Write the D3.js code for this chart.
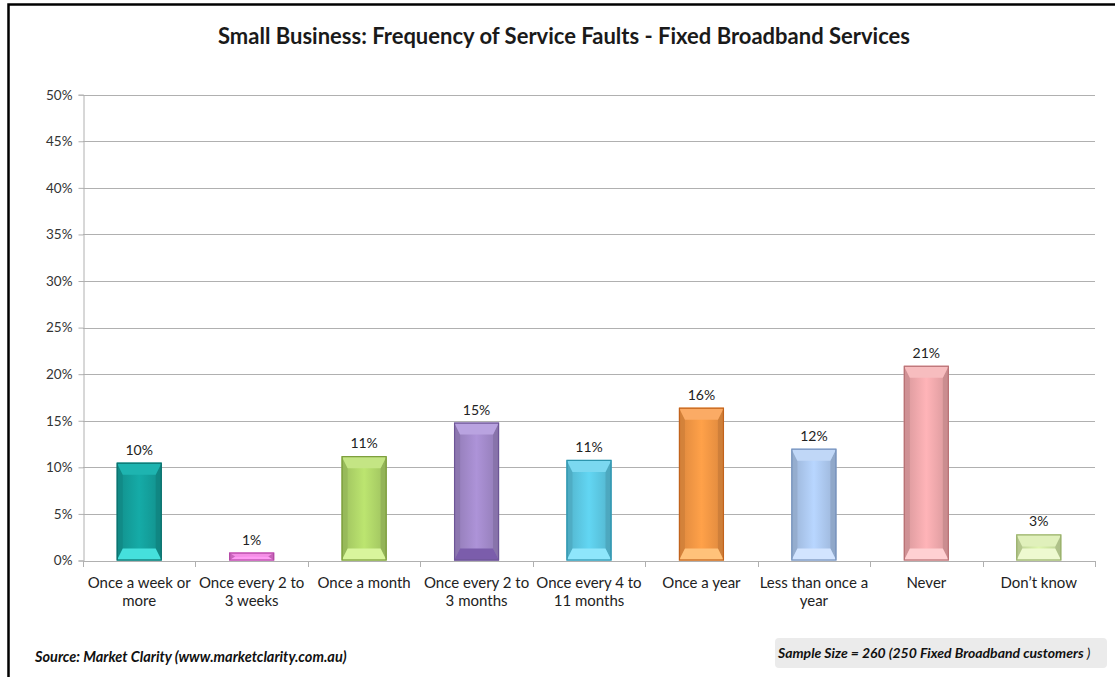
<!DOCTYPE html>
<html><head><meta charset="utf-8">
<script src="https://cdn.jsdelivr.net/npm/d3@7"></script>
<style>body{margin:0;background:#fff;}svg{display:block;font-family:Lato,"Open Sans",sans-serif;}</style>
</head><body>
<script>
const categories = ["Once a week or more","Once every 2 to 3 weeks","Once a month","Once every 2 to 3 months","Once every 4 to 11 months","Once a year","Less than once a year","Never","Don\u2019t know"];
const labelLines = [["Once a week or","more"],["Once every 2 to","3 weeks"],["Once a month"],["Once every 2 to","3 months"],["Once every 4 to","11 months"],["Once a year"],["Less than once a","year"],["Never"],["Don\u2019t know"]];
const values = [10.5, 0.85, 11.2, 14.8, 10.8, 16.4, 12.0, 20.9, 2.8];
const valueLabels = ["10%","1%","11%","15%","11%","16%","12%","21%","3%"];
const yTicks = [0,5,10,15,20,25,30,35,40,45,50];
const faceColors = ["#14a29e","#ee78de","#b2d96a","#a48bcd","#5dcbe6","#f99945","#aecbf3","#f4abae","#d3e9a6"];
const edgeColors = ["#0b6f6c","#b44aa6","#7a9b3a","#6d5596","#2d93ad","#c2631c","#7591bb","#b87174","#98b06a"];
const botColors  = ["#45e0dc","#ff9cf4","#d8f59c","#7b5dab","#8ee6fb","#ffc27a","#d2e4ff","#ffd0d2","#eef9d0"];
const topColors  = ["#1eb4b0","#f48fe6","#c4e584","#b9a3e0","#7bd8f0","#fbab65","#c0d7f7","#f7bdbf","#e0f0bb"];

const W=1115,H=677;
const svg=d3.select("body").append("svg").attr("width",W).attr("height",H);

// frame
svg.append("path").attr("d","M8.5,677 L8.5,4.5 L1115,4.5").attr("fill","none").attr("stroke","#000").attr("stroke-width",2.5);

svg.append("text").attr("x",564).attr("y",44).attr("text-anchor","middle").attr("font-size",22).attr("font-weight","bold").attr("fill","#1a1a1a")
  .text("Small Business: Frequency of Service Faults - Fixed Broadband Services");

const x0=83,x1=1095,y0=560.5,y1=94.7;
const x=d3.scaleBand().domain(categories).range([x0,x1]).paddingInner(0.6).paddingOuter(0.3);
const y=d3.scaleLinear().domain([0,50]).range([y0,y1]);

// gridlines
svg.append("g").selectAll("line").data(yTicks.filter(d=>d>0)).join("line")
  .attr("x1",x0).attr("x2",x1).attr("y1",d=>Math.round(y(d))+0.5).attr("y2",d=>Math.round(y(d))+0.5)
  .attr("stroke","#b0b0b0").attr("stroke-width",1);

const yAxis=svg.append("g").attr("transform",`translate(${x0+0.5},0)`)
  .call(d3.axisLeft(y).tickValues(yTicks).tickFormat(d=>d+"%").tickSize(5).tickPadding(6));
yAxis.select(".domain").attr("stroke","#b0b0b0");
yAxis.selectAll(".tick line").attr("stroke","#b0b0b0");
yAxis.selectAll("text").attr("font-size",13.5).attr("fill","#333").attr("font-family","Lato,'Open Sans',sans-serif");

// x axis
const xb=svg.append("g");
xb.append("line").attr("x1",x0).attr("x2",x1).attr("y1",Math.round(y0)+0.5).attr("y2",Math.round(y0)+0.5).attr("stroke","#b0b0b0");
const step=x.step();
xb.selectAll(".tk").data(d3.range(categories.length+1)).join("line").attr("class","tk")
  .attr("x1",i=>Math.round(x0+i*step)+0.5).attr("x2",i=>Math.round(x0+i*step)+0.5)
  .attr("y1",Math.round(y0)).attr("y2",Math.round(y0)+6).attr("stroke","#b0b0b0");
xb.selectAll(".lbl").data(categories).join("text").attr("class","lbl")
  .attr("text-anchor","middle").attr("font-size",15).attr("fill","#222")
  .each(function(d,i){
    const t=d3.select(this);
    labelLines[i].forEach((ln,j)=>t.append("tspan").attr("x",x(d)+x.bandwidth()/2).attr("y",588+j*18).text(ln));
  });

// gradients
const defs=svg.append("defs");
categories.forEach((c,i)=>{
  const g=defs.append("linearGradient").attr("id","g"+i).attr("x1","0").attr("x2","1").attr("y1","0").attr("y2","0");
  g.append("stop").attr("offset","0").attr("stop-color",d3.color(faceColors[i]).darker(0.35));
  g.append("stop").attr("offset","0.5").attr("stop-color",d3.color(faceColors[i]).brighter(0.15));
  g.append("stop").attr("offset","1").attr("stop-color",d3.color(faceColors[i]).darker(0.35));
});

const bars=svg.append("g").selectAll("g").data(categories).join("g");
bars.each(function(c,i){
  const g=d3.select(this);
  const bx=x(c), bw=x.bandwidth(), top=y(values[i]), bot=y(0), h=bot-top;
  const bev=Math.min(12,h/2), side=Math.min(6,bw/2);
  g.append("rect").attr("x",bx).attr("y",top).attr("width",bw).attr("height",h).attr("fill",`url(#g${i})`);
  g.append("polygon").attr("points",[[bx,top],[bx+side,top+bev],[bx+side,bot-bev],[bx,bot]].join(" ")).attr("fill",d3.color(faceColors[i]).darker(0.5)).attr("opacity",0.8);
  g.append("polygon").attr("points",[[bx+bw,top],[bx+bw-side,top+bev],[bx+bw-side,bot-bev],[bx+bw,bot]].join(" ")).attr("fill",d3.color(faceColors[i]).darker(0.6)).attr("opacity",0.8);
  g.append("polygon").attr("points",[[bx,top],[bx+bw,top],[bx+bw-side,top+bev],[bx+side,top+bev]].join(" ")).attr("fill",topColors[i]);
  g.append("polygon").attr("points",[[bx,bot],[bx+bw,bot],[bx+bw-side,bot-bev],[bx+side,bot-bev]].join(" ")).attr("fill",botColors[i]);
  g.append("rect").attr("x",bx+0.5).attr("y",top+0.5).attr("width",bw-1).attr("height",Math.max(0,h-1)).attr("fill","none").attr("stroke",edgeColors[i]).attr("stroke-width",1.2);
  g.append("text").attr("x",bx+bw/2).attr("y",top-8).attr("text-anchor","middle").attr("font-size",14).attr("fill","#222").text(valueLabels[i]);
});

// footer
svg.append("text").attr("x",35).attr("y",662).attr("font-size",14.5).attr("font-weight","bold").attr("font-style","italic").attr("fill","#111")
  .text("Source: Market Clarity (www.marketclarity.com.au)");
svg.append("rect").attr("x",775).attr("y",638).attr("width",332).attr("height",30).attr("rx",4).attr("fill","#ebebeb");
const st=svg.append("text").attr("x",778).attr("y",658).attr("font-size",14).attr("font-style","italic").attr("fill","#111");
st.append("tspan").attr("font-weight","bold").text("Sample Size = 260 (250 Fixed Broadband customers ");
st.append("tspan").text(")");
</script>
</body></html>
